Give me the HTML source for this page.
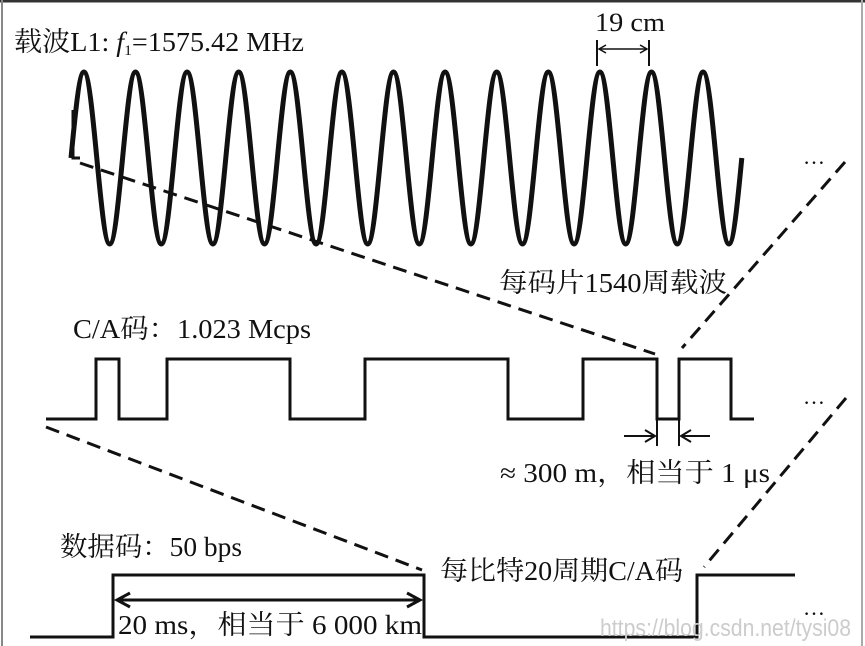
<!DOCTYPE html>
<html><head><meta charset="utf-8"><style>
html,body{margin:0;padding:0;background:#fff;}
svg{display:block;}
text{font-family:"Liberation Serif","Noto Serif CJK SC",serif;fill:#111;}
</style></head><body>
<svg width="865" height="646" viewBox="0 0 865 646" xmlns="http://www.w3.org/2000/svg">
<rect x="0" y="0" width="865" height="646" fill="#fff"/>
<line x1="0" y1="1" x2="865" y2="1" stroke="#333" stroke-width="3"/>
<line x1="2" y1="0" x2="2" y2="646" stroke="#888" stroke-width="2"/>
<line x1="862" y1="0" x2="862" y2="646" stroke="#aaa" stroke-width="2"/>

<text x="14" y="51" font-size="27" textLength="290" lengthAdjust="spacingAndGlyphs">载波L1: <tspan font-style="italic">f</tspan><tspan font-size="15" dy="4">1</tspan><tspan dy="-4">=1575.42 MHz</tspan></text>
<text x="595" y="31" font-size="26" textLength="70" lengthAdjust="spacingAndGlyphs">19 cm</text>
<line x1="597" y1="40" x2="597" y2="66" stroke="#111" stroke-width="2"/>
<line x1="649" y1="40" x2="649" y2="66" stroke="#111" stroke-width="2"/>
<line x1="599" y1="49" x2="647" y2="49" stroke="#111" stroke-width="1.5"/>
<path d="M606,45 L599,49 L606,53 M640,45 L647,49 L640,53" fill="none" stroke="#111" stroke-width="1.5"/>

<path fill="none" stroke="#111" stroke-width="5" stroke-linejoin="round" d="M71,158
c4.2,-44 8.23,-86 12.9,-86 c4.67,0 8.7,42 12.9,86 c4.2,44 8.23,86 12.9,86 c4.67,0 8.7,-42 12.9,-86
c4.2,-44 8.23,-86 12.9,-86 c4.67,0 8.7,42 12.9,86 c4.2,44 8.23,86 12.9,86 c4.67,0 8.7,-42 12.9,-86
c4.2,-44 8.23,-86 12.9,-86 c4.67,0 8.7,42 12.9,86 c4.2,44 8.23,86 12.9,86 c4.67,0 8.7,-42 12.9,-86
c4.2,-44 8.23,-86 12.9,-86 c4.67,0 8.7,42 12.9,86 c4.2,44 8.23,86 12.9,86 c4.67,0 8.7,-42 12.9,-86
c4.2,-44 8.23,-86 12.9,-86 c4.67,0 8.7,42 12.9,86 c4.2,44 8.23,86 12.9,86 c4.67,0 8.7,-42 12.9,-86
c4.2,-44 8.23,-86 12.9,-86 c4.67,0 8.7,42 12.9,86 c4.2,44 8.23,86 12.9,86 c4.67,0 8.7,-42 12.9,-86
c4.2,-44 8.23,-86 12.9,-86 c4.67,0 8.7,42 12.9,86 c4.2,44 8.23,86 12.9,86 c4.67,0 8.7,-42 12.9,-86
c4.2,-44 8.23,-86 12.9,-86 c4.67,0 8.7,42 12.9,86 c4.2,44 8.23,86 12.9,86 c4.67,0 8.7,-42 12.9,-86
c4.2,-44 8.23,-86 12.9,-86 c4.67,0 8.7,42 12.9,86 c4.2,44 8.23,86 12.9,86 c4.67,0 8.7,-42 12.9,-86
c4.2,-44 8.23,-86 12.9,-86 c4.67,0 8.7,42 12.9,86 c4.2,44 8.23,86 12.9,86 c4.67,0 8.7,-42 12.9,-86
c4.2,-44 8.23,-86 12.9,-86 c4.67,0 8.7,42 12.9,86 c4.2,44 8.23,86 12.9,86 c4.67,0 8.7,-42 12.9,-86
c4.2,-44 8.23,-86 12.9,-86 c4.67,0 8.7,42 12.9,86 c4.2,44 8.23,86 12.9,86 c4.67,0 8.7,-42 12.9,-86
c4.2,-44 8.23,-86 12.9,-86 c4.67,0 8.7,42 12.9,86 c4.2,44 8.23,86 12.9,86 c4.67,0 8.7,-42 12.9,-86"/>
<path d="M73,110 V158 H80" fill="none" stroke="#111" stroke-width="3"/>
<text x="803" y="164" font-size="22">…</text>

<g stroke="#111" stroke-width="3" stroke-dasharray="14,8" fill="none">
<line x1="80" y1="163" x2="655" y2="354"/>
<line x1="845" y1="162" x2="682" y2="348"/>
<line x1="46" y1="427" x2="422" y2="570"/>
<line x1="846" y1="398" x2="704" y2="567"/>
</g>

<text x="499" y="292" font-size="27" textLength="228" lengthAdjust="spacingAndGlyphs">每码片1540周载波</text>
<text x="73" y="338" font-size="27" textLength="238" lengthAdjust="spacingAndGlyphs">C/A码：1.023 Mcps</text>

<path fill="none" stroke="#111" stroke-width="3" d="M46,419 H96 V359 H119 V419 H167 V359 H290 V419 H365 V359 H508 V419 H583 V359 H657 V419 H679 V359 H731 V419 H754"/>
<line x1="657" y1="419" x2="657" y2="446" stroke="#111" stroke-width="2"/>
<line x1="679" y1="419" x2="679" y2="446" stroke="#111" stroke-width="2"/>
<line x1="624" y1="436" x2="655" y2="436" stroke="#111" stroke-width="2"/>
<path d="M645,430 L655,436 L645,442" fill="none" stroke="#111" stroke-width="2"/>
<line x1="681" y1="436" x2="710" y2="436" stroke="#111" stroke-width="2"/>
<path d="M691,430 L681,436 L691,442" fill="none" stroke="#111" stroke-width="2"/>
<text x="803" y="404" font-size="22">…</text>
<text x="500" y="482" font-size="27" textLength="270" lengthAdjust="spacingAndGlyphs">≈ 300 m，相当于 1 μs</text>

<text x="60" y="556" font-size="27" textLength="182" lengthAdjust="spacingAndGlyphs">数据码：50 bps</text>
<text x="440" y="580" font-size="27" textLength="243" lengthAdjust="spacingAndGlyphs">每比特20周期C/A码</text>
<path fill="none" stroke="#111" stroke-width="3" d="M30,637 H113 V575 H424 V637 H697 V575 H795"/>
<line x1="117" y1="600" x2="420" y2="600" stroke="#111" stroke-width="3"/>
<path d="M130,593 L117,600 L130,607 M407,593 L420,600 L407,607" fill="none" stroke="#111" stroke-width="3"/>
<text x="118" y="634" font-size="27" textLength="304" lengthAdjust="spacingAndGlyphs">20 ms，相当于 6 000 km</text>
<text x="803" y="615" font-size="22">…</text>
<text x="600" y="636" font-size="24" textLength="251" lengthAdjust="spacingAndGlyphs" style="fill:#ccc;font-family:'Liberation Sans',sans-serif">https://blog.csdn.net/tysi08</text>
</svg>
</body></html>
